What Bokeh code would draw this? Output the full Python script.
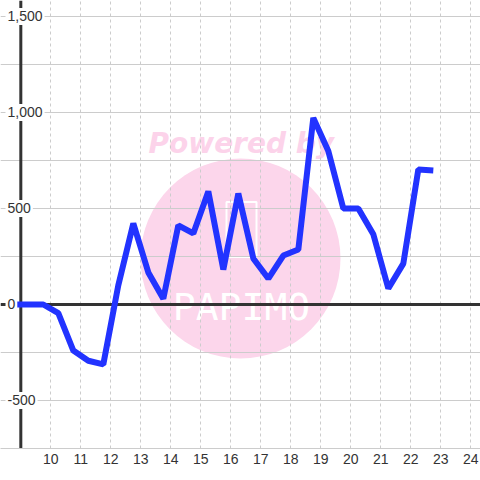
from bokeh.plotting import figure
from bokeh.models import Range1d, FixedTicker, Span
from bokeh.core.properties import value
from bokeh.embed import file_html
from bokeh.resources import INLINE

# ---- data ----
times = [8.75, 9.25, 9.75, 10.25, 10.75, 11.25, 11.75, 12.25, 12.75, 13.25, 13.75,
         14.25, 14.75, 15.25, 15.75, 16.25, 16.75, 17.25, 17.75, 18.25, 18.75,
         19.25, 19.75, 20.25, 20.75, 21.25, 21.75, 22.25, 22.75]
values = [0, 0, 0, -45, -240, -293, -312, 100, 422, 167, 30,
          412, 370, 589, 182, 578, 240, 135, 255, 286, 972,
          800, 500, 500, 366, 83, 213, 703, 698]
x_ticks = [10, 11, 12, 13, 14, 15, 16, 17, 18, 19, 20, 21, 22, 23, 24]
y_label_ticks = [1500, 1000, 500, 0, -500]
y_label_text = ["1,500", "1,000", "500", "0", "-500"]
y_grid_ticks = [-500, -250, 0, 250, 500, 750, 1000, 1250, 1500]

X0, X1 = 8.323, 24.323
Y0, Y1 = -750, 1583.3
W, H = 480, 480
FRAME_H = 448

p = figure(width=W, height=H, output_backend="svg", toolbar_location=None,
           x_range=Range1d(X0, X1), y_range=Range1d(Y0, Y1),
           y_axis_location=None, min_border_left=0, min_border_right=0,
           min_border_top=0, min_border_bottom=H - FRAME_H)
p.outline_line_color = None
p.background_fill_color = "white"
p.border_fill_color = "white"

# helpers: screen px (canvas) -> data
def sx(px):
    return X0 + (X1 - X0) * px / W

def sy(py):
    return Y1 - (Y1 - Y0) * py / FRAME_H

# ---- watermark (under grid) ----
p.scatter(x=[sx(240)], y=[sy(258)], size=200, marker="circle",
          fill_color="#fcd6eb", line_color=None, level="image")
p.rect(x=[sx(241)], y=[sy(229)], width=30, height=55, width_units="screen",
       height_units="screen", fill_color=None, line_color="white", line_width=2,
       level="image")
p.text(x=[sx(241)], y=[sy(306)], text=["PAPIMO"], text_font=value("DejaVu Sans Mono"),
       text_font_size="38px", text_color="white", text_align="center",
       text_baseline="alphabetic", level="image")
p.text(x=[sx(148)], y=[sy(143)], text=["Powered by"], text_font=value("DejaVu Sans"),
       text_font_style="bold italic", text_font_size="28px", text_color="#fcd3ea",
       text_align="left", text_baseline="alphabetic", level="image")

# ---- grids ----
p.ygrid.ticker = FixedTicker(ticks=y_grid_ticks)
p.ygrid.grid_line_color = "#cccccc"
p.ygrid.grid_line_width = 1
p.xgrid.ticker = FixedTicker(ticks=x_ticks)
p.xgrid.grid_line_color = "#cccccc"
p.xgrid.grid_line_dash = "3 3"

# ---- x axis ----
p.xaxis.ticker = FixedTicker(ticks=x_ticks)
p.xaxis.axis_line_color = "#cccccc"
p.xaxis.axis_line_width = 1
p.xaxis.major_tick_line_color = None
p.xaxis.minor_tick_line_color = None
p.xaxis.major_tick_out = 0
p.xaxis.major_label_standoff = 5
p.xaxis.major_label_text_font = "Liberation Sans"
p.xaxis.major_label_text_font_size = "14px"
p.xaxis.major_label_text_color = "#333333"

# ---- zero line and y axis line (below the series) ----
p.add_layout(Span(location=0, dimension="width", line_color="#333333", line_width=3,
                  level="underlay"))
p.add_layout(Span(location=9, dimension="height", line_color="#333333", line_width=3,
                  level="underlay"))

# ---- series ----
p.line(times, values, line_color="#2233ff", line_width=6)

# ---- y labels with white boxes over the axis ----
char_w = {"0": 7.8, "1": 7.8, "5": 7.8, ",": 3.9, "-": 4.7}
LEFT = 5
for v, t in zip(y_label_ticks, y_label_text):
    w = sum(char_w.get(c, 7.8) for c in t) + 4
    p.rect(x=[sx(LEFT + w / 2)], y=[v], width=w, height=17, width_units="screen",
           height_units="screen", fill_color="white", line_color=None, level="overlay")
p.text(x=[sx(LEFT + 2)] * len(y_label_ticks), y=y_label_ticks, text=y_label_text,
       text_align="left", text_baseline="middle", text_font=value("Liberation Sans"),
       text_font_size="14px", text_color="#333333", level="overlay")

open("out.html", "w").write(file_html(p, INLINE))
